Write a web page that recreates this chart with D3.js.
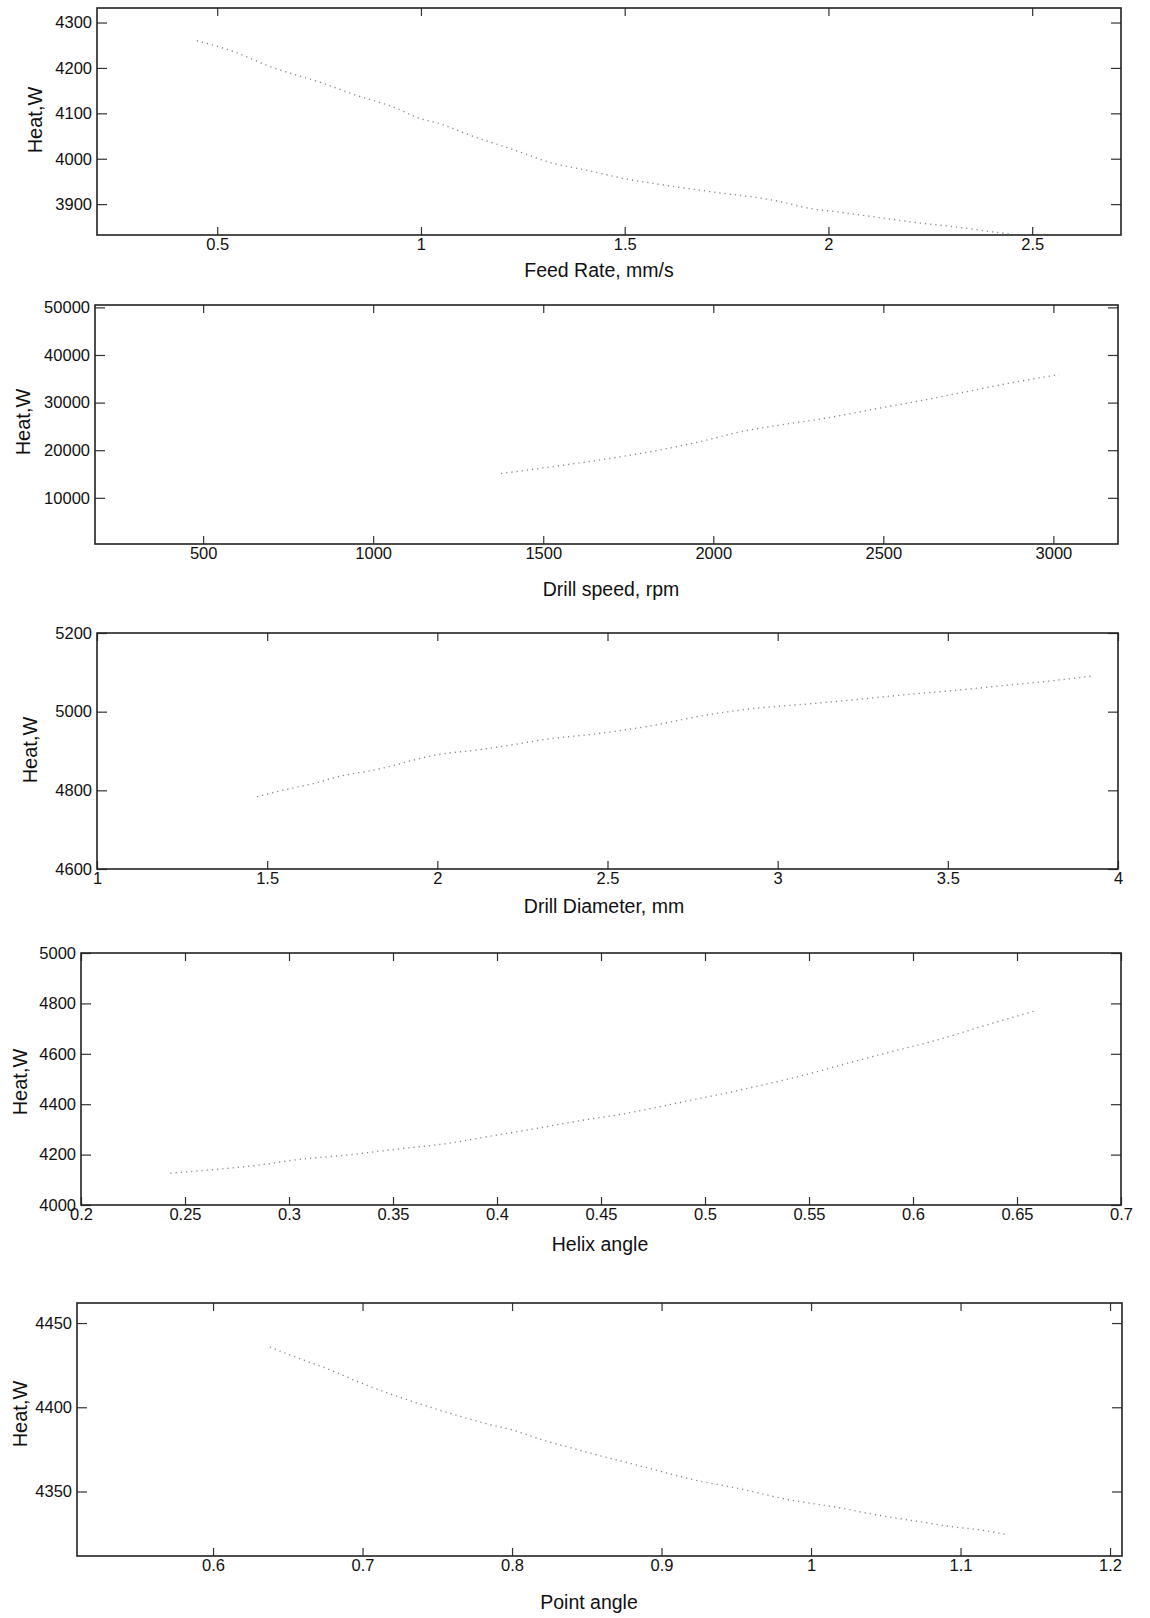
<!DOCTYPE html>
<html>
<head>
<meta charset="utf-8">
<script src="https://cdn.jsdelivr.net/npm/d3@7"></script>
<style>
body { margin: 0; background: #fff; }
</style>
</head>
<body>
<script>
// Heat vs drilling parameters, five stacked panels

// panel 1: feed rate
var feedRate = [0.45, 0.54, 0.63, 0.76, 0.84, 0.94, 0.99, 1.05, 1.12, 1.23, 1.32, 1.41, 1.50, 1.59, 1.74, 1.82, 1.89, 1.94, 2.03, 2.12, 2.21, 2.32, 2.41, 2.45];
var feedHeat = [4260, 4236, 4203, 4166, 4140, 4111, 4091, 4076, 4052, 4019, 3991, 3974, 3956, 3943, 3924, 3915, 3904, 3893, 3882, 3871, 3860, 3849, 3838, 3834];
var feedTicks = [0.5, 1, 1.5, 2, 2.5];
var feedHeatTicks = [3900, 4000, 4100, 4200, 4300];

// panel 2: drill speed
var drillSpeed = [1376, 1528, 1680, 1854, 1985, 2072, 2202, 2333, 2463, 2572, 2724, 2876, 3017];
var speedHeat = [15100, 16550, 18100, 20200, 22200, 23750, 25350, 26760, 28500, 29900, 32000, 34150, 35900];
var speedTicks = [500, 1000, 1500, 2000, 2500, 3000];
var speedHeatTicks = [10000, 20000, 30000, 40000, 50000];

// panel 3: drill diameter
var diameter = [1.47, 1.55, 1.63, 1.72, 1.81, 2.01, 2.11, 2.20, 2.34, 2.45, 2.53, 2.64, 2.78, 2.93, 3.08, 3.21, 3.36, 3.52, 3.67, 3.80, 3.93];
var diameterHeat = [4784, 4801, 4816, 4837, 4851, 4892, 4902, 4913, 4932, 4942, 4951, 4966, 4990, 5008, 5019, 5029, 5042, 5054, 5067, 5078, 5091];
var diameterTicks = [1, 1.5, 2, 2.5, 3, 3.5, 4];
var diameterHeatTicks = [4600, 4800, 5000, 5200];

// panel 4: helix angle
var helix = [0.243, 0.253, 0.287, 0.304, 0.329, 0.352, 0.376, 0.398, 0.417, 0.441, 0.459, 0.477, 0.491, 0.510, 0.528, 0.546, 0.567, 0.588, 0.613, 0.634, 0.659];
var helixHeat = [4126, 4133, 4160, 4180, 4199, 4222, 4244, 4275, 4301, 4336, 4359, 4388, 4412, 4444, 4477, 4512, 4559, 4605, 4658, 4711, 4771];
var helixTicks = [0.2, 0.25, 0.3, 0.35, 0.4, 0.45, 0.5, 0.55, 0.6, 0.65, 0.7];
var helixHeatTicks = [4000, 4200, 4400, 4600, 4800, 5000];

// panel 5: point angle
var pointAngle = [0.638, 0.654, 0.678, 0.698, 0.764, 0.783, 0.800, 0.820, 0.844, 0.859, 0.883, 0.927, 0.947, 0.986, 1.018, 1.040, 1.076, 1.093, 1.113, 1.130];
var pointHeat = [4435.7, 4430.2, 4422.3, 4414.8, 4395.0, 4390.2, 4386.6, 4380.7, 4374.8, 4371.2, 4365.8, 4355.9, 4352.6, 4345.0, 4340.5, 4336.7, 4331.6, 4329.2, 4327.2, 4324.6];
var pointTicks = [0.6, 0.7, 0.8, 0.9, 1, 1.1, 1.2];
var pointHeatTicks = [4350, 4400, 4450];

var FONT = "'Liberation Sans', Arial, Helvetica, sans-serif";

var svg = d3
    .select("body")
    .append("svg")
    .attr("width", 1150)
    .attr("height", 1618)
    .style("background", "#fff");

function drawPanel(xs, ys, xTicks, yTicks, xDomain, yDomain, box, xLabel, xLabelPos, yLabelPos) {
    var x = d3.scaleLinear().domain(xDomain).range([box.left, box.right]);
    var y = d3.scaleLinear().domain(yDomain).range([box.bottom, box.top]);
    var fmt = d3.format("~g");
    var g = svg.append("g");

    // ticks point inward on all four sides
    g.append("g")
        .attr("transform", "translate(0," + box.bottom + ")")
        .call(d3.axisBottom(x).tickValues(xTicks).tickSize(-8).tickPadding(3).tickFormat(fmt));
    g.append("g")
        .attr("transform", "translate(0," + box.top + ")")
        .call(d3.axisTop(x).tickValues(xTicks).tickSize(-8).tickFormat(""));
    g.append("g")
        .attr("transform", "translate(" + box.left + ",0)")
        .call(d3.axisLeft(y).tickValues(yTicks).tickSize(-10).tickPadding(5).tickFormat(fmt));
    g.append("g")
        .attr("transform", "translate(" + box.right + ",0)")
        .call(d3.axisRight(y).tickValues(yTicks).tickSize(-10).tickFormat(""));

    g.selectAll(".domain").remove();
    g.selectAll(".tick line").attr("stroke", "#333").attr("stroke-width", 1.2);
    g.selectAll(".tick text")
        .attr("fill", "#111")
        .attr("font-size", 16.5)
        .attr("font-family", FONT);

    // frame
    g.append("rect")
        .attr("x", box.left)
        .attr("y", box.top)
        .attr("width", box.right - box.left)
        .attr("height", box.bottom - box.top)
        .attr("fill", "none")
        .attr("stroke", "#222")
        .attr("stroke-width", 1.6);

    // faint dotted curve
    var pts = xs.map(function (d, i) { return [d, ys[i]]; });
    g.append("path")
        .datum(pts)
        .attr("fill", "none")
        .attr("stroke", "#8a8a8a")
        .attr("stroke-width", 1.4)
        .attr("stroke-dasharray", "1.2,4")
        .attr("d", d3.line()
            .x(function (d) { return x(d[0]); })
            .y(function (d) { return y(d[1]); })
            .curve(d3.curveMonotoneX));

    g.append("text")
        .attr("x", xLabelPos[0])
        .attr("y", xLabelPos[1])
        .attr("text-anchor", "middle")
        .attr("font-family", FONT)
        .attr("font-size", 19.5)
        .attr("fill", "#111")
        .text(xLabel);

    g.append("text")
        .attr("transform", "translate(" + yLabelPos[0] + "," + yLabelPos[1] + ") rotate(-90)")
        .attr("text-anchor", "middle")
        .attr("dy", "0.35em")
        .attr("font-family", FONT)
        .attr("font-size", 20)
        .attr("fill", "#111")
        .text("Heat,W");
}

drawPanel(feedRate, feedHeat, feedTicks, feedHeatTicks, [0.205, 2.718], [3832, 4332],
    { left: 97, right: 1121, top: 8, bottom: 235 }, "Feed Rate, mm/s", [599, 277], [35, 120]);

drawPanel(drillSpeed, speedHeat, speedTicks, speedHeatTicks, [182, 3190], [300, 50500],
    { left: 95, right: 1118, top: 305, bottom: 544 }, "Drill speed, rpm", [611, 596], [23, 422]);

drawPanel(diameter, diameterHeat, diameterTicks, diameterHeatTicks, [1, 4], [4600, 5200],
    { left: 97, right: 1118, top: 633, bottom: 869 }, "Drill Diameter, mm", [604, 913], [30, 750]);

drawPanel(helix, helixHeat, helixTicks, helixHeatTicks, [0.2, 0.7], [4000, 5000],
    { left: 81, right: 1121, top: 953, bottom: 1205 }, "Helix angle", [600, 1251], [20, 1082]);

drawPanel(pointAngle, pointHeat, pointTicks, pointHeatTicks, [0.509, 1.208], [4311.7, 4461.9],
    { left: 77, right: 1122, top: 1303, bottom: 1556 }, "Point angle", [589, 1609], [20, 1414]);
</script>
</body>
</html>
